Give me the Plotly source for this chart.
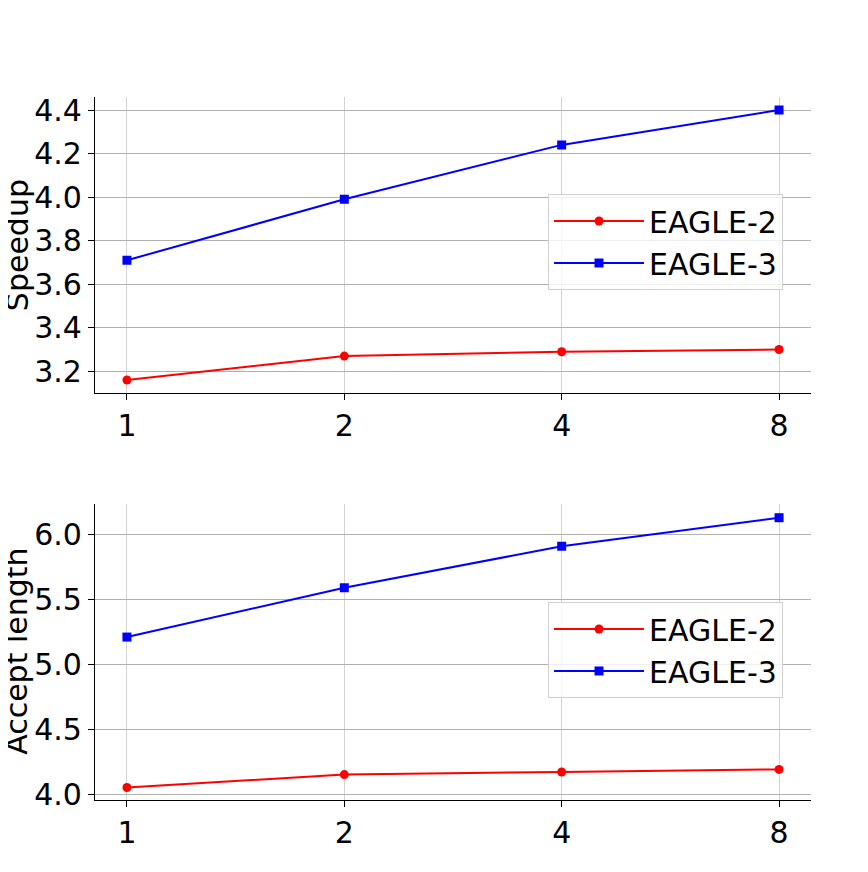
import plotly.graph_objects as go
from plotly.subplots import make_subplots

categories = ["1", "2", "4", "8"]
speedup_eagle2 = [3.16, 3.27, 3.29, 3.30]
speedup_eagle3 = [3.71, 3.99, 4.24, 4.40]
accept_eagle2 = [4.05, 4.15, 4.17, 4.19]
accept_eagle3 = [5.21, 5.59, 5.91, 6.13]
y_titles = ["Speedup", "Accept length"]

xs = list(range(len(categories)))

fig = make_subplots(rows=2, cols=1, vertical_spacing=0.157)

font = "DejaVu Sans"
fs = 30

def add_pair(row, e2, e3):
    lg = "legend" if row == 1 else "legend2"
    fig.add_trace(go.Scatter(x=xs, y=e2, mode="lines+markers", name="EAGLE-2",
                             line=dict(color="red", width=2),
                             marker=dict(symbol="circle", size=9, color="red"),
                             legend=lg),
                  row=row, col=1)
    fig.add_trace(go.Scatter(x=xs, y=e3, mode="lines+markers", name="EAGLE-3",
                             line=dict(color="blue", width=2),
                             marker=dict(symbol="square", size=9, color="blue"),
                             legend=lg),
                  row=row, col=1)

add_pair(1, speedup_eagle2, speedup_eagle3)
add_pair(2, accept_eagle2, accept_eagle3)

axis_common = dict(showline=True, linecolor="black", linewidth=1.2,
                   showgrid=True, gridwidth=1, automargin=False,
                   ticks="outside", ticklen=6, tickcolor="black",
                   tickfont=dict(family=font, size=fs, color="black"),
                   zeroline=False, mirror=False)

for r in (1, 2):
    fig.update_xaxes(range=[-0.147, 3.147], tickvals=xs, ticktext=categories,
                     gridcolor="#d3d3d3", row=r, col=1, **axis_common)

fig.update_yaxes(range=[3.099, 4.46], tickvals=[3.2, 3.4, 3.6, 3.8, 4.0, 4.2, 4.4],
                 tickformat=".1f", gridcolor="#b0b0b0",
                 row=1, col=1, **axis_common)
fig.update_yaxes(range=[3.954, 6.238], tickvals=[4.0, 4.5, 5.0, 5.5, 6.0],
                 tickformat=".1f", gridcolor="#b0b0b0",
                 row=2, col=1, **axis_common)

for i, t in enumerate(y_titles):
    yref = "y domain" if i == 0 else "y2 domain"
    fig.add_annotation(text=t, xref="paper", yref=yref, x=0, y=0.5,
                       xshift=-78, xanchor="center", yanchor="middle",
                       textangle=-90, showarrow=False, borderpad=0,
                       font=dict(family=font, size=30, color="black"))

legend_style = dict(font=dict(family=font, size=fs, color="black"),
                    bgcolor="rgba(255,255,255,0.8)", bordercolor="#d0d0d0", borderwidth=1,
                    xanchor="left", yanchor="top", itemwidth=90, tracegroupgap=4)

fig.update_layout(
    width=852, height=856,
    margin=dict(l=87, r=49, t=89, b=64),
    paper_bgcolor="white", plot_bgcolor="white",
    font=dict(family=font, color="black"),
    showlegend=True,
    legend=dict(x=0.6327, y=0.862, **legend_style),
    legend2=dict(x=0.6327, y=0.2817, **legend_style),
)

fig.write_html("out.html")
